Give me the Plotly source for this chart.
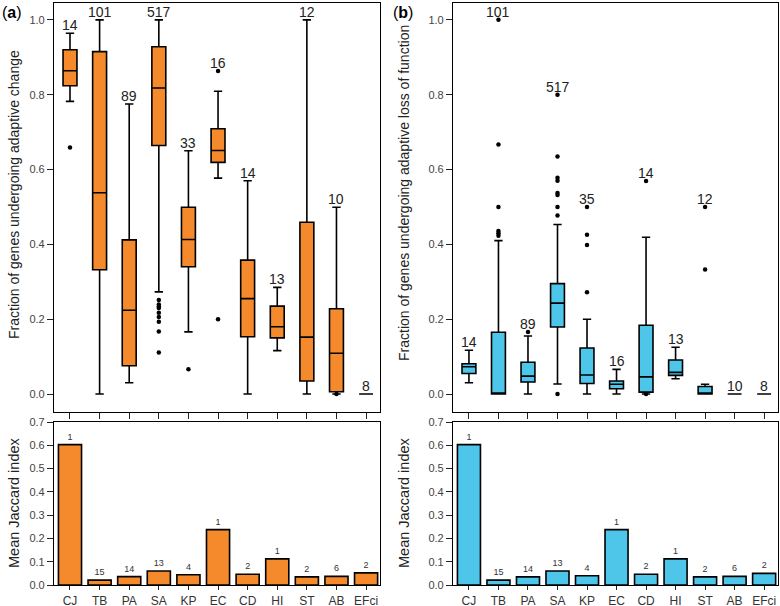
import plotly.graph_objects as go

categories = ["CJ", "TB", "PA", "SA", "KP", "EC", "CD", "HI", "ST", "AB", "EFci"]

# (a) Fraction of genes undergoing adaptive change
a_low = [0.782, 0.0, 0.030, 0.273, 0.166, 0.577, 0.0, 0.116, 0.0, 0.0, 0.0]
a_q1 = [0.824, 0.332, 0.0755, 0.664, 0.340, 0.619, 0.153, 0.150, 0.035, 0.006, 0.0]
a_med = [0.864, 0.538, 0.224, 0.818, 0.413, 0.651, 0.255, 0.180, 0.152, 0.109, 0.0]
a_q3 = [0.920, 0.915, 0.412, 0.928, 0.499, 0.709, 0.358, 0.235, 0.459, 0.228, 0.0]
a_high = [0.964, 1.0, 0.775, 1.0, 0.650, 0.809, 0.570, 0.285, 1.0, 0.499, 0.0]
a_n = [14, 101, 89, 517, 33, 16, 14, 13, 12, 10, 8]
a_out_cat = ["CJ"] + ["SA"] * 9 + ["KP", "EC", "EC", "AB"]
a_out_val = [0.659, 0.251, 0.239, 0.234, 0.230, 0.217, 0.206, 0.193, 0.167, 0.111,
             0.066, 0.863, 0.200, 0.0]

# (b) Fraction of genes undergoing adaptive loss of function
b_low = [0.030, 0.0, 0.0, 0.027, 0.0, 0.0, 0.0, 0.041, 0.0, 0.0, 0.0]
b_q1 = [0.055, 0.0, 0.032, 0.179, 0.028, 0.014, 0.005, 0.050, 0.0, 0.0, 0.0]
b_med = [0.073, 0.0, 0.048, 0.243, 0.051, 0.026, 0.046, 0.058, 0.0, 0.0, 0.0]
b_q3 = [0.081, 0.165, 0.085, 0.295, 0.123, 0.035, 0.184, 0.091, 0.020, 0.0, 0.0]
b_high = [0.117, 0.410, 0.155, 0.453, 0.200, 0.066, 0.419, 0.125, 0.026, 0.0, 0.0]
b_n = [14, 101, 89, 517, 35, 16, 14, 13, 12, 10, 8]
b_out_cat = (["TB"] * 6 + ["PA"] + ["SA"] * 9 + ["KP"] * 4 + ["CD"] * 2 + ["ST"] * 2)
b_out_val = [1.0, 0.667, 0.5, 0.436, 0.430, 0.423,
             0.166,
             0.8, 0.635, 0.578, 0.570, 0.537, 0.532, 0.5, 0.477, 0.0,
             0.5, 0.426, 0.398, 0.272,
             0.569, 0.0,
             0.5, 0.333]

# Mean Jaccard index
jac_a = [0.603, 0.021, 0.036, 0.060, 0.044, 0.238, 0.046, 0.112, 0.035, 0.037, 0.052]
jac_b = [0.603, 0.021, 0.035, 0.060, 0.040, 0.238, 0.046, 0.112, 0.035, 0.037, 0.050]
jac_n = [1, 15, 14, 13, 4, 1, 2, 1, 2, 6, 2]

ORANGE = "#F48A2C"
BLUE = "#4DC6EA"
FONT = "Liberation Sans"
W, H = 780, 606

fig = go.Figure()


def px_x(x):
    return x / W


def px_y(y):
    return (H - y) / H


panels = [
    dict(xa="x", ya="y", xb="x3", yb="y3", color=ORANGE,
         low=a_low, q1=a_q1, med=a_med, q3=a_q3, high=a_high, n=a_n,
         oc=a_out_cat, ov=a_out_val, jac=jac_a),
    dict(xa="x2", ya="y2", xb="x4", yb="y4", color=BLUE,
         low=b_low, q1=b_q1, med=b_med, q3=b_q3, high=b_high, n=b_n,
         oc=b_out_cat, ov=b_out_val, jac=jac_b),
]

for p in panels:
    fig.add_trace(go.Box(
        x=categories, q1=p["q1"], median=p["med"], q3=p["q3"],
        lowerfence=p["low"], upperfence=p["high"],
        fillcolor=p["color"], line=dict(color="black", width=1.6),
        width=0.47, whiskerwidth=0.6, boxpoints=False,
        xaxis=p["xa"], yaxis=p["ya"], showlegend=False, hoverinfo="skip"))
    fig.add_trace(go.Scatter(
        x=p["oc"], y=p["ov"], mode="markers",
        marker=dict(color="black", size=4.5),
        xaxis=p["xa"], yaxis=p["ya"], showlegend=False, hoverinfo="skip"))
    # count labels above the highest point per category
    for i, c in enumerate(categories):
        top = max([p["high"][i]] + [v for cc, v in zip(p["oc"], p["ov"]) if cc == c])
        fig.add_annotation(x=c, y=top, text=str(p["n"][i]), showarrow=False,
                           xref=p["xa"], yref=p["ya"], yanchor="middle", yshift=8,
                           font=dict(size=14, color="#222222", family=FONT))
    fig.add_trace(go.Bar(
        x=categories, y=p["jac"], marker=dict(color=p["color"],
                                               line=dict(color="black", width=1.6)),
        width=0.78, xaxis=p["xb"], yaxis=p["yb"], showlegend=False,
        text=[str(v) for v in jac_n], textposition="outside",
        textfont=dict(size=9, color="#333333", family=FONT),
        cliponaxis=False, hoverinfo="skip"))

xl = [px_x(54), px_x(380)]
xr = [px_x(453), px_x(778)]
ytop = [px_y(412), px_y(3)]
ybot = [px_y(585), px_y(422)]

common_x = dict(range=[-0.54, 10.47], showline=True, linecolor="black", linewidth=1.2,
                mirror=True, ticks="outside", tickcolor="#222222",
                showgrid=False, zeroline=False, fixedrange=True, automargin=False)
ytick_font = dict(size=11, color="#444444", family=FONT)
common_ytop = dict(range=[-0.048, 1.045], tickvals=[0, 0.2, 0.4, 0.6, 0.8, 1.0],
                   ticktext=["0.0", "0.2", "0.4", "0.6", "0.8", "1.0"],
                   showline=True, linecolor="black", linewidth=1.2, mirror=True,
                   ticks="outside", ticklen=6, tickcolor="#222222", automargin=False,
                   showgrid=False, zeroline=False, tickfont=ytick_font)
common_ybot = dict(range=[0, 0.7], tickvals=[0, 0.1, 0.2, 0.3, 0.4, 0.5, 0.6, 0.7],
                   ticktext=["0.0", "0.1", "0.2", "0.3", "0.4", "0.5", "0.6", "0.7"],
                   showline=True, linecolor="black", linewidth=1.2, mirror=True,
                   ticks="outside", ticklen=6, tickcolor="#222222", automargin=False,
                   showgrid=False, zeroline=False, tickfont=ytick_font)
xbot_font = dict(size=12, color="#333333", family=FONT)

fig.update_layout(
    width=W, height=H, margin=dict(l=0, r=0, t=0, b=0), autosize=False,
    paper_bgcolor="white", plot_bgcolor="white",
    font=dict(family=FONT, color="#222222"),
    xaxis=dict(domain=xl, anchor="y", showticklabels=False, ticklen=6, **common_x),
    yaxis=dict(domain=ytop, anchor="x", **common_ytop),
    xaxis2=dict(domain=xr, anchor="y2", showticklabels=False, ticklen=6, **common_x),
    yaxis2=dict(domain=ytop, anchor="x2", **common_ytop),
    xaxis3=dict(domain=xl, anchor="y3", tickfont=xbot_font, ticklen=4, **common_x),
    yaxis3=dict(domain=ybot, anchor="x3", **common_ybot),
    xaxis4=dict(domain=xr, anchor="y4", tickfont=xbot_font, ticklen=4, **common_x),
    yaxis4=dict(domain=ybot, anchor="x4", **common_ybot),
)

title_font = dict(size=14, color="#222222", family=FONT)
fig.add_annotation(x=px_x(14), y=px_y(195), xref="paper", yref="paper",
                   xanchor="center", yanchor="middle",
                   text="Fraction of genes undergoing adaptive change",
                   textangle=-90, showarrow=False, font=title_font)
fig.add_annotation(x=px_x(404), y=px_y(193), xref="paper", yref="paper",
                   xanchor="center", yanchor="middle",
                   text="Fraction of genes undergoing adaptive loss of function",
                   textangle=-90, showarrow=False, font=title_font)
for xx in (14, 404):
    fig.add_annotation(x=px_x(xx), y=px_y(503), xref="paper", yref="paper",
                       xanchor="center", yanchor="middle",
                       text="Mean Jaccard index", textangle=-90, showarrow=False,
                       font=dict(size=14.5, color="#222222", family=FONT))
fig.add_annotation(x=px_x(0), y=px_y(12), xref="paper", yref="paper",
                   xanchor="left", yanchor="middle",
                   text="(<b>a</b>)", showarrow=False,
                   font=dict(size=16, color="black", family=FONT))
fig.add_annotation(x=px_x(391), y=px_y(12), xref="paper", yref="paper",
                   xanchor="left", yanchor="middle",
                   text="(<b>b</b>)", showarrow=False,
                   font=dict(size=16, color="black", family=FONT))

fig.write_html("out.html", config={"displayModeBar": False},
               post_script="document.body.style.margin='0';document.body.style.overflow='hidden';")
